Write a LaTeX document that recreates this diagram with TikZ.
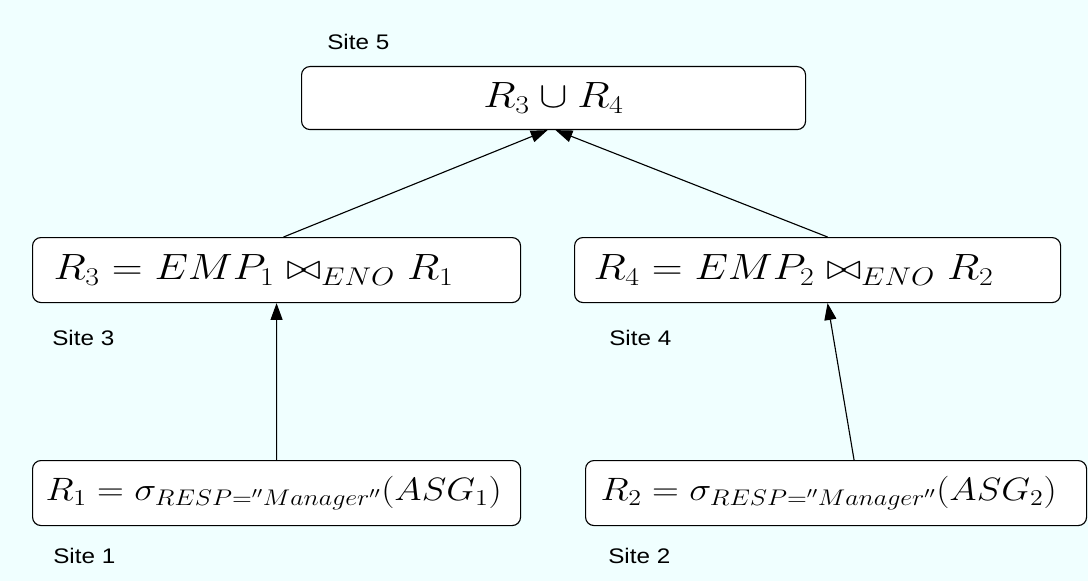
\RequirePackage{fix-cm}
\documentclass[tikz,border=0pt]{standalone}
\usepackage{amssymb,amsmath}
\usepackage{graphicx}
\usepackage{fontspec}
\setsansfont{Liberation Sans}
\usepackage{tikz}
\usetikzlibrary{arrows.meta,calc,positioning}
\usepackage{xcolor}
\definecolor{bgcyan}{HTML}{F0FFFF}
\newcommand{\Sel}[1]{\sigma_{RESP=''Manager''}(#1)}
\newcommand{\wide}[2][1.17]{\scalebox{#1}[1]{#2}}

\begin{document}
\begin{tikzpicture}[
  relbox/.style={draw,fill=white,rounded corners=6pt,line width=0.8pt,
    align=left,inner ysep=0pt,minimum height=1.625cm,anchor=north west},
  site/.style={font=\sffamily\fontsize{15}{18}\selectfont,anchor=base west,inner sep=0pt},
  >={Triangle[length=0.42cm,width=0.3cm]}]
\fill[bgcyan] (0,0) rectangle (27.2,-14.525);
\useasboundingbox (0,0) rectangle (27.2,-14.525);
% site 5: union
\node[relbox,align=center,minimum width=12.6cm,minimum height=1.575cm,inner xsep=0pt,
  font=\fontsize{26}{30}\selectfont] (U) at (7.525,-1.65) {\wide{$R_3\cup R_4$}};
% sites 3 and 4: joins
\node[relbox,text width=11.15cm,inner xsep=0.525cm,font=\fontsize{26}{30}\selectfont]
  (J1) at (0.8,-5.925) {\wide{$R_3=EMP_1\bowtie_{ENO}R_1$}};
\node[relbox,text width=11.2cm,inner xsep=0.475cm,font=\fontsize{26}{30}\selectfont]
  (J2) at (14.35,-5.925) {\wide{$R_4=EMP_2\bowtie_{ENO}R_2$}};
% sites 1 and 2: selections
\node[relbox,text width=11.55cm,inner xsep=0.325cm,font=\fontsize{23}{27}\selectfont]
  (S1) at (0.8,-11.5) {\wide[1.15]{$R_1=\Sel{ASG_1}$}};
\node[relbox,text width=11.775cm,inner xsep=0.375cm,font=\fontsize{23}{27}\selectfont]
  (S2) at (14.625,-11.5) {\wide[1.15]{$R_2=\Sel{ASG_2}$}};
% site names
\node[site] (L5) at (8.175,-1.25) {\wide[1.15]{Site 5}};
\node[site] (L3) at (1.3,-8.625) {\wide[1.15]{Site 3}};
\node[site] (L4) at (15.225,-8.625) {\wide[1.15]{Site 4}};
\node[site] (L1) at (1.325,-14.075) {\wide[1.15]{Site 1}};
\node[site] (L2) at (15.2,-14.075) {\wide[1.15]{Site 2}};
\path[->,line width=0.8pt]
(S1) edge (J1)
([xshift=0.45cm]S2.north) edge ([xshift=0.25cm]J2.south)
([xshift=0.175cm]J1.north) edge ([xshift=-0.15cm]U.south)
([xshift=0.25cm]J2.north) edge ([xshift=0.05cm]U.south);
\end{tikzpicture}
\end{document}
